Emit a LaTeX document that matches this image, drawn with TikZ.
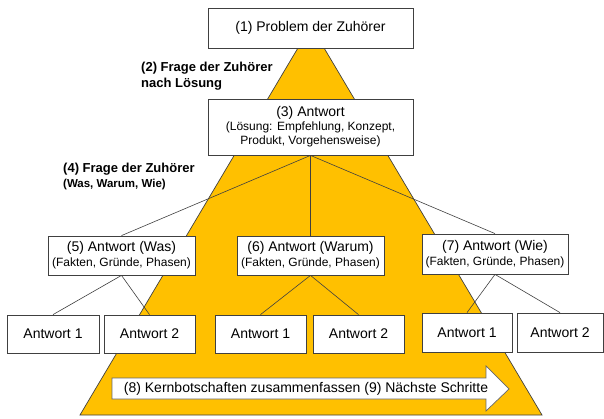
\documentclass[tikz,border=0pt]{standalone}
\usepackage{fontspec}
\setmainfont{Liberation Sans}
\definecolor{gold}{HTML}{FFC000}
\definecolor{edge}{HTML}{404040}
\begin{document}
\begin{tikzpicture}[x=1pt,y=-1pt,
  box/.style={draw=edge, line width=0.8pt, fill=white, inner sep=0pt, align=center},
  big/.style={font=\fontsize{14}{16}\selectfont},
  conn/.style={draw=edge, line width=0.6pt},
  lbl/.style={anchor=west, inner sep=0pt, font=\bfseries\fontsize{13}{15}\selectfont},
  sublbl/.style={anchor=west, inner sep=0pt, font=\bfseries\fontsize{11.5}{13}\selectfont}]
\useasboundingbox (0,0) rectangle (604,419);
% pyramid
\fill[gold, draw=edge, line width=0.7pt] (311,26) -- (80,415) -- (542,415) -- cycle;
% boxes
\node[box, big, minimum width=205pt, minimum height=40pt] (b1) at (310.5,28) {(1) Problem der Zuhörer};
\node[box, minimum width=205pt, minimum height=56pt, font=\fontsize{12}{14}\selectfont] (b3) at (310.5,127)
  {{\fontsize{14}{19}\selectfont (3) Antwort}\\(Lösung: Empfehlung, Konzept,\\Produkt, Vorgehensweise)};
\node[box, minimum width=147pt, minimum height=39pt, font=\fontsize{12}{15}\selectfont] (b5) at (121.5,255.5)
  {{\fontsize{14}{15}\selectfont (5) Antwort (Was)}\\(Fakten, Gründe, Phasen)};
\node[box, minimum width=147pt, minimum height=39pt, font=\fontsize{12}{15}\selectfont] (b6) at (310.5,255.5)
  {{\fontsize{14}{15}\selectfont (6) Antwort (Warum)}\\(Fakten, Gründe, Phasen)};
\node[box, minimum width=146pt, minimum height=40pt, font=\fontsize{12}{15}\selectfont] (b7) at (495,254)
  {{\fontsize{14}{15}\selectfont (7) Antwort (Wie)}\\(Fakten, Gründe, Phasen)};
\node[box, big, minimum width=92pt, minimum height=38pt] (a51) at (53,334) {Antwort 1};
\node[box, big, minimum width=91pt, minimum height=38pt] (a52) at (149.5,334) {Antwort 2};
\node[box, big, minimum width=91pt, minimum height=38pt] (a61) at (260.5,334) {Antwort 1};
\node[box, big, minimum width=91pt, minimum height=38pt] (a62) at (358.5,334) {Antwort 2};
\node[box, big, minimum width=90pt, minimum height=39pt] (a71) at (467,332.5) {Antwort 1};
\node[box, big, minimum width=86pt, minimum height=39pt] (a72) at (560,332.5) {Antwort 2};
% connectors
\draw[conn] (b3.south) -- (b5.north);
\draw[conn] (b3.south) -- (b6.north);
\draw[conn] (b3.south) -- (b7.north);
\draw[conn] (b5.south) -- (a51.north);
\draw[conn] (b5.south) -- (a52.north);
\draw[conn] (b6.south) -- (a61.north);
\draw[conn] (b6.south) -- (a62.north);
\draw[conn] (b7.south) -- (a71.north);
\draw[conn] (b7.south) -- (a72.north);
% labels
\node[lbl] (l2a) at (141,68) {(2) Frage der Zuhörer};
\node[lbl] (l2b) at (141,84) {nach Lösung};
\node[lbl] (l4a) at (63,169) {(4) Frage der Zuhörer};
\node[sublbl] (l4b) at (63,185) {(Was, Warum, Wie)};
% arrow
\draw[fill=white, draw=edge!80, line width=0.7pt] (112,378) -- (486,378) -- (486,366) -- (509,389) -- (486,411) -- (486,399) -- (112,399) -- cycle;
\node[big, inner sep=0pt] (arr) at (306,388.5) {(8) Kernbotschaften zusammenfassen (9) Nächste Schritte};
\end{tikzpicture}
\end{document}
